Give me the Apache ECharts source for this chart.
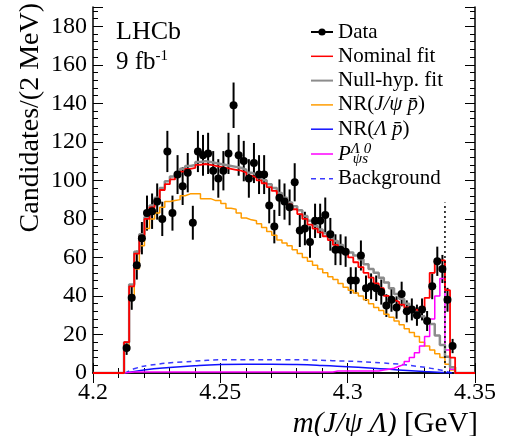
<!DOCTYPE html>
<html>
<head>
<meta charset="utf-8">
<script src="https://cdn.jsdelivr.net/npm/echarts@6/dist/echarts.min.js"></script>
<style>
html, body { margin: 0; padding: 0; background: #fff; }
#chart { width: 520px; height: 436px; }
</style>
</head>
<body>
<div id="chart"></div>
<script>
// binning: 2 MeV bins starting just above threshold
var binLow = 4.2122;
var binWidth = 0.002;

// data points (candidates per bin) and their error bars
var dataCounts = [13, 39, 56, 70, 83, 84, 89, 80, 115, 83, 103, 97, 104, 78, 115, 113, 114, 105, 101, 105,
  114, 139, 113, 110, 101, 109, 103, 103, 87, 76, 91, 89, 86, 99, 74, 75, 68, 79, 79, 82,
  72, 64, 64, 63, 48, 48, 61, 44, 45, 44, 42, 35, 38, 34, 41, 32, 33, 30, 33, 27,
  45, 58, 54, 38, 14];
var dataErrors = [3.6, 6.2, 7.5, 8.4, 9.1, 9.2, 9.4, 8.9, 10.7, 9.1, 10.1, 9.8, 10.2, 8.8, 10.7, 10.6, 10.7, 10.2, 10, 10.2,
  10.7, 11.8, 10.6, 10.5, 10, 10.4, 10.1, 10.1, 9.3, 8.7, 9.5, 9.4, 9.3, 9.9, 8.6, 8.7, 8.2, 8.9, 8.9, 9.1,
  8.5, 8, 8, 7.9, 6.9, 6.9, 7.8, 6.6, 6.7, 6.6, 6.5, 5.9, 6.2, 5.8, 6.4, 5.7, 5.7, 5.5, 5.7, 5.2,
  6.7, 7.6, 7.3, 6.2, 3.7];

// fit components, per bin
var nominalFit = [16, 45, 62, 71, 80, 86, 90, 95, 98, 100.5, 102.5, 104.5, 106, 106.5, 108, 108.5, 108, 107.5, 107, 106.5,
  106, 105.5, 105, 104, 102.5, 101.5, 100, 98.5, 96.5, 94.5, 92, 90, 87.5, 85, 82.5, 80, 77, 75, 73, 71,
  69, 66.5, 64.5, 62, 60, 57.5, 55, 52, 49.5, 46.5, 44, 40, 38, 37, 35.5, 34, 33, 32.5, 33.5, 39,
  52, 58.5, 58.5, 43, 8];
var nullFit = [16, 46, 63, 72, 81, 87, 91, 96, 99.5, 102, 104, 106, 107.5, 108, 109.5, 110, 109.5, 109, 108.5, 108,
  107.5, 107, 106.5, 105.5, 104, 103, 101.5, 100, 98, 96, 93.5, 91, 88.5, 86.5, 84.5, 81.5, 79, 76.5, 74.5, 72.5,
  70.5, 68.5, 66.5, 64, 62.5, 61, 59, 56.5, 54, 52, 49.5, 47, 44, 41, 38.5, 36, 34, 32, 29.5, 27.5,
  25.5, 19.5, 14.5, 8.5, 3];
var nrJpsiP = [12, 38, 54, 66, 75, 80, 83, 86, 89, 89.5, 90, 92, 93, 93, 93, 90.5, 90.5, 89.5, 89.5, 88,
  85.5, 85, 83, 80.5, 79.5, 79, 77.5, 75.5, 73.5, 71.5, 69, 67.5, 66, 64, 62, 60, 58, 56, 54, 52,
  50, 48.5, 46.5, 44.5, 43, 41.5, 40, 38, 36, 34, 32.5, 30.5, 29, 27, 25, 23, 21, 19, 16, 14,
  12, 10, 8, 4.5, 1.5];
var pcsSignal = [0.2, 0.5, 0.5, 0.5, 0.5, 0.5, 0.5, 0.5, 0.5, 0.5, 0.5, 0.5, 0.5, 0.5, 0.5, 0.5, 0.5, 0.5, 0.5, 0.5,
  0.5, 0.5, 0.5, 0.5, 0.5, 0.5, 0.5, 0.5, 0.5, 0.5, 0.5, 0.5, 0.5, 0.5, 0.5, 0.5, 0.5, 0.5, 0.5, 0.5,
  0.5, 1, 1, 1, 1, 1, 1, 1, 1, 1, 1.5, 2, 2.5, 3.5, 4.5, 6, 8, 10.5, 14, 19,
  28, 40, 49, 12, 2];

// smooth components
var nrLambdaX = [4.2125, 4.22, 4.23, 4.24, 4.25, 4.26, 4.27, 4.28, 4.29, 4.30, 4.31, 4.32, 4.33, 4.341];
var nrLambdaY = [0, 1.6, 2.9, 3.8, 4.4, 4.6, 4.6, 4.4, 3.9, 3.2, 2.5, 1.6, 0.8, 0];
var bkgX = [4.2125, 4.2165, 4.222, 4.235, 4.255, 4.275, 4.294, 4.314, 4.327, 4.337, 4.341];
var bkgY = [0, 2.3, 4, 5.7, 6.9, 6.9, 6.4, 5.2, 3.5, 1.4, 0];

// P_psi_s mass marker
var pcsMass = 4.3382;
var pcsLineTop = 88.5;

var serif = "'Liberation Serif', 'Times New Roman', serif";

function stepPoints(vals) {
  var pts = [[4.2, 0]];
  for (var i = 0; i < vals.length; i++) {
    pts.push([binLow + i * binWidth, vals[i]]);
  }
  pts.push([binLow + vals.length * binWidth, 0]);
  pts.push([4.35, 0]);
  return pts;
}

function zipXY(xs, ys) {
  return xs.map(function (x, i) { return [x, ys[i]]; });
}

var points = [];
var errBars = [];
dataCounts.forEach(function (n, i) {
  var x = binLow + (i + 0.5) * binWidth;
  points.push([x, n]);
  errBars.push([x, n, dataErrors[i]]);
});

var legendLabels = {
  'NR(J/ψ p̄)': 'NR({i|J/ψ p̄})',
  'NR(Λ p̄)': 'NR({i|Λ p̄})',
  'Pψs': '{i|P}{sup|Λ 0}{sub|ψs}'
};

var chart = echarts.init(document.getElementById('chart'));

var tickCommon = {
  axisLine: { show: true, lineStyle: { color: '#000', width: 1.5 } },
  axisTick: { show: true, inside: true, length: 10, lineStyle: { color: '#000', width: 1 } },
  minorTick: { show: true, splitNumber: 5, length: 5, lineStyle: { color: '#000', width: 1 } },
  splitLine: { show: false }
};

var option = {
  animation: false,
  backgroundColor: '#fff',
  grid: { left: 93, right: 45, top: 7, bottom: 63, outerBoundsMode: 'none' },
  xAxis: [
    Object.assign({
      type: 'value', min: 4.2, max: 4.35, interval: 0.05, position: 'bottom',
      axisLabel: { color: '#000', fontFamily: serif, fontSize: 24, margin: 8 },
      name: '{i|m(J/ψ Λ)} [GeV]',
      nameLocation: 'end', nameGap: 3, nameMoveOverlap: false,
      nameTextStyle: {
        color: '#000', fontFamily: serif, fontSize: 29, align: 'right', verticalAlign: 'top',
        padding: [37, 0, 0, 0],
        rich: { i: { fontFamily: serif, fontSize: 29, fontStyle: 'italic', color: '#000' } }
      }
    }, tickCommon),
    Object.assign({
      type: 'value', min: 4.2, max: 4.35, interval: 0.05, position: 'top',
      axisLabel: { show: false }
    }, tickCommon)
  ],
  yAxis: [
    Object.assign({
      type: 'value', min: 0, max: 190, interval: 20, position: 'left',
      axisLabel: { color: '#000', fontFamily: serif, fontSize: 24, margin: 6, showMaxLabel: false },
      name: 'Candidates/(2 MeV)',
      nameLocation: 'end', nameRotate: 90, nameGap: 4, nameMoveOverlap: false,
      nameTextStyle: {
        color: '#000', fontFamily: serif, fontSize: 28, align: 'right', verticalAlign: 'bottom',
        padding: [0, 0, 48, 0]
      }
    }, tickCommon),
    Object.assign({
      type: 'value', min: 0, max: 190, interval: 20, position: 'right',
      axisLabel: { show: false }
    }, tickCommon)
  ],
  legend: {
    orient: 'vertical', left: 310, top: 20, padding: 0,
    itemWidth: 22, itemHeight: 9, itemGap: 0.3,
    selectedMode: false,
    formatter: function (name) { return legendLabels[name] || name; },
    textStyle: {
      color: '#000', fontFamily: serif, fontSize: 21, lineHeight: 24,
      rich: {
        i: { color: '#000', fontFamily: serif, fontSize: 21, fontStyle: 'italic', lineHeight: 24 },
        sup: { color: '#000', fontFamily: serif, fontSize: 15, fontStyle: 'italic', lineHeight: 14, padding: [0, 0, 10, 0], width: 2 },
        sub: { color: '#000', fontFamily: serif, fontSize: 15, fontStyle: 'italic', lineHeight: 14, padding: [10, 0, 0, 0] }
      }
    },
    data: [
      { name: 'Data', itemStyle: { color: '#000', opacity: 1 }, lineStyle: { color: '#000', width: 2 } },
      { name: 'Nominal fit', itemStyle: { opacity: 0 }, lineStyle: { width: 1.5 } },
      { name: 'Null-hyp. fit', itemStyle: { opacity: 0 }, lineStyle: { width: 2 } },
      { name: 'NR(J/ψ p̄)', itemStyle: { opacity: 0 }, lineStyle: { width: 1.5 } },
      { name: 'NR(Λ p̄)', itemStyle: { opacity: 0 }, lineStyle: { width: 1.5 } },
      { name: 'Pψs', itemStyle: { opacity: 0 }, lineStyle: { width: 1.5 } },
      { name: 'Background', itemStyle: { opacity: 0 }, lineStyle: { width: 1.5 } }
    ]
  },
  graphic: [
    { type: 'text', left: 116, top: 19, style: { text: 'LHCb', font: '26px ' + serif, fill: '#000' } },
    {
      type: 'text', left: 116, top: 49,
      style: {
        text: '9 fb{sup|-1}', font: '25px ' + serif, fill: '#000',
        rich: { sup: { fontSize: 15, fontFamily: serif, padding: [0, 0, 12, 0], lineHeight: 15 } }
      }
    }
  ],
  series: [
    {
      name: 'NR(J/ψ p̄)', type: 'line', step: 'end', symbol: 'none',
      data: stepPoints(nrJpsiP), lineStyle: { color: '#ff9c00', width: 1.5 }, itemStyle: { color: '#ff9c00' }
    },
    {
      name: 'Background', type: 'line', smooth: true, symbol: 'none',
      data: zipXY(bkgX, bkgY), lineStyle: { color: '#3a3aff', width: 1.5, type: [5, 4] }, itemStyle: { color: '#3a3aff' }
    },
    {
      name: 'NR(Λ p̄)', type: 'line', smooth: true, symbol: 'none',
      data: zipXY(nrLambdaX, nrLambdaY), lineStyle: { color: '#1010ff', width: 1.5 }, itemStyle: { color: '#1010ff' }
    },
    {
      name: 'Pψs', type: 'line', step: 'end', symbol: 'none',
      data: stepPoints(pcsSignal), lineStyle: { color: '#ff00ff', width: 1.5 }, itemStyle: { color: '#ff00ff' }
    },
    {
      name: 'Null-hyp. fit', type: 'line', step: 'end', symbol: 'none',
      data: stepPoints(nullFit), lineStyle: { color: '#8c8c8c', width: 2.5 }, itemStyle: { color: '#8c8c8c' }
    },
    {
      name: 'Nominal fit', type: 'line', step: 'end', symbol: 'none',
      data: stepPoints(nominalFit), lineStyle: { color: '#ff0000', width: 1.8 }, itemStyle: { color: '#ff0000' }
    },
    {
      name: 'Pψs mass', type: 'line', symbol: 'none',
      data: [[pcsMass, 0], [pcsMass, pcsLineTop]],
      lineStyle: { color: '#000', width: 1.5, type: [2, 3] }
    },
    {
      name: 'Data errors', type: 'custom', data: errBars, encode: { x: 0, y: 1 },
      renderItem: function (params, api) {
        var x = api.value(0), y = api.value(1), e = api.value(2);
        var lo = api.coord([x, y - e]);
        var hi = api.coord([x, y + e]);
        return {
          type: 'line',
          shape: { x1: lo[0], y1: lo[1], x2: hi[0], y2: hi[1] },
          style: { stroke: '#000', lineWidth: 2 }
        };
      }
    },
    {
      name: 'Data', type: 'line', symbol: 'circle', symbolSize: 8, showSymbol: true,
      data: points, lineStyle: { width: 0, color: '#000' }, itemStyle: { color: '#000' }
    }
  ]
};

chart.setOption(option);
</script>
</body>
</html>
